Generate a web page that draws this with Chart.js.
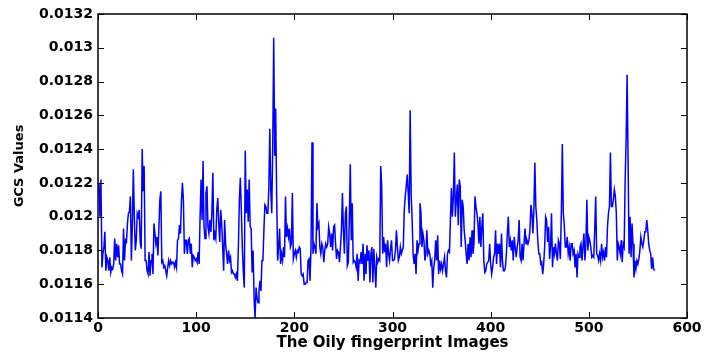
<!DOCTYPE html>
<html><head><meta charset="utf-8">
<script src="https://cdn.jsdelivr.net/npm/chart.js@4/dist/chart.umd.min.js"></script>
<style>html,body{margin:0;padding:0;background:#fff}canvas{display:block}</style>
</head><body>
<canvas id="c" width="704" height="356"></canvas>
<script>
// GCS value for each oily fingerprint image (1..567)
const gcsValues = [
0.0122,0.0120,0.01222,0.0117,0.01178,0.01182,0.01191,0.01168,0.01176,0.01174,
0.01168,0.01176,0.01167,0.0117,0.01169,0.01172,0.01187,0.01174,0.01184,0.01176,
0.01183,0.01172,0.01172,0.01168,0.01166,0.01193,0.01174,0.01186,0.01185,0.01196,
0.01202,0.01203,0.01212,0.01174,0.01195,0.01228,0.012,0.0118,0.01186,0.01202,
0.012,0.01204,0.01185,0.01181,0.0124,0.01215,0.0123,0.01174,0.01174,0.01168,
0.01166,0.01179,0.01165,0.01174,0.01178,0.01166,0.01196,0.0119,0.01184,0.01188,
0.01177,0.01193,0.0121,0.01215,0.01173,0.01174,0.0117,0.01171,0.01168,0.01165,
0.0117,0.01174,0.01171,0.01174,0.01172,0.01173,0.01173,0.0117,0.01173,0.0117,
0.01186,0.01187,0.01195,0.0119,0.01209,0.0122,0.0121,0.01178,0.01186,0.01186,
0.01178,0.01186,0.01187,0.01178,0.01184,0.0117,0.01177,0.01176,0.01174,0.01175,
0.01173,0.01179,0.01172,0.012,0.01222,0.01198,0.01233,0.01194,0.01187,0.01214,
0.01218,0.01194,0.0119,0.01198,0.01191,0.01202,0.01226,0.01186,0.0119,0.01187,
0.01204,0.01211,0.01196,0.01185,0.01204,0.01196,0.01182,0.01168,0.01198,0.01184,
0.01178,0.01172,0.0118,0.01174,0.01176,0.01167,0.01168,0.01166,0.01166,0.01164,
0.01166,0.01162,0.01182,0.0121,0.01223,0.01204,0.01182,0.01168,0.01158,0.01239,
0.01202,0.01216,0.01197,0.01222,0.01194,0.01193,0.01167,0.0118,0.01152,0.0114,
0.01158,0.01152,0.01149,0.01156,0.01162,0.01156,0.01174,0.01174,0.01192,0.01207,
0.01206,0.01202,0.01202,0.01216,0.01252,0.01216,0.01202,0.01242,0.01306,0.01236,
0.01264,0.01212,0.01174,0.01182,0.01193,0.01172,0.01178,0.01174,0.01182,0.01176,
0.01212,0.01188,0.01193,0.01188,0.01193,0.01182,0.01184,0.01214,0.01175,0.01178,
0.0118,0.01176,0.0118,0.01179,0.01182,0.01181,0.01166,0.01165,0.01166,0.0116,
0.0116,0.01161,0.01161,0.01174,0.01175,0.01162,0.01182,0.01244,0.01178,0.01184,
0.01182,0.01178,0.01208,0.01194,0.01196,0.01182,0.01178,0.01184,0.01182,0.01173,
0.0118,0.01184,0.01182,0.01184,0.01194,0.0119,0.01182,0.0119,0.0118,0.01194,
0.01195,0.01184,0.01175,0.0118,0.01179,0.01173,0.01182,0.01192,0.01214,0.01192,
0.01178,0.01202,0.01206,0.01171,0.01173,0.01198,0.01231,0.01186,0.01208,0.01173,
0.01174,0.01173,0.0117,0.01178,0.01162,0.01174,0.01173,0.01179,0.01172,0.01184,
0.01162,0.01178,0.01166,0.01183,0.01174,0.0118,0.01161,0.01178,0.01182,0.01161,
0.01181,0.0117,0.01158,0.01176,0.01173,0.01175,0.01174,0.0123,0.01218,0.01178,
0.01188,0.01179,0.01184,0.0117,0.01186,0.01178,0.01174,0.01181,0.01186,0.01174,
0.01174,0.01175,0.0118,0.01192,0.01182,0.01174,0.01176,0.01182,0.01178,0.0118,
0.01182,0.01204,0.01212,0.01218,0.01225,0.01214,0.01202,0.01263,0.01214,0.01198,
0.01178,0.01172,0.01178,0.01166,0.01186,0.0118,0.01184,0.01208,0.01202,0.01182,
0.0119,0.01186,0.01174,0.01178,0.01192,0.01178,0.0118,0.01178,0.01172,0.01174,
0.01158,0.0117,0.01174,0.01186,0.01174,0.01189,0.01166,0.01174,0.01169,0.01172,
0.01168,0.01172,0.01176,0.01168,0.01164,0.01178,0.0118,0.01179,0.01198,0.01217,
0.012,0.01212,0.01238,0.012,0.0121,0.01219,0.01195,0.01222,0.01218,0.01182,
0.0121,0.01206,0.01192,0.01186,0.01178,0.01172,0.01184,0.01174,0.01188,0.01176,
0.01192,0.01178,0.01184,0.01212,0.01206,0.01202,0.01196,0.01184,0.012,0.01182,
0.01194,0.01202,0.01174,0.01167,0.01168,0.01172,0.01173,0.01174,0.01184,0.01172,
0.01166,0.0117,0.01176,0.01178,0.01192,0.01172,0.01184,0.01178,0.01184,0.0117,
0.0119,0.01174,0.01168,0.01168,0.0117,0.01178,0.0119,0.012,0.01182,0.01186,
0.0118,0.01186,0.01174,0.01188,0.01182,0.01176,0.01182,0.01186,0.01198,0.01176,
0.01174,0.01184,0.01174,0.01184,0.01193,0.01184,0.01186,0.01184,0.01186,0.01192,
0.01207,0.01202,0.0119,0.01204,0.01232,0.01206,0.01198,0.01186,0.01178,0.01178,
0.01172,0.01173,0.01166,0.01172,0.01182,0.012,0.01198,0.01185,0.01194,0.01175,
0.01182,0.01202,0.0117,0.01182,0.01178,0.01184,0.01178,0.01174,0.01186,0.01184,
0.01175,0.01202,0.01243,0.01202,0.01195,0.01182,0.01182,0.01188,0.01178,0.01182,
0.01174,0.01184,0.01184,0.01178,0.0118,0.0117,0.01178,0.01164,0.01178,0.01176,
0.01182,0.01184,0.01174,0.01182,0.0119,0.01174,0.01184,0.0121,0.0118,0.01188,
0.01186,0.01182,0.01176,0.01177,0.01176,0.01192,0.01212,0.01178,0.01177,0.01174,
0.01178,0.01174,0.01184,0.01176,0.01179,0.01174,0.01182,0.01176,0.01194,0.01202,
0.01206,0.01238,0.01206,0.01206,0.0121,0.01216,0.01212,0.01202,0.01174,0.01184,
0.01182,0.01178,0.01186,0.01173,0.01184,0.01182,0.01222,0.01246,0.01284,0.01232,
0.01178,0.012,0.01176,0.01196,0.01184,0.01164,0.01174,0.01169,0.01174,0.01172,
0.01175,0.0118,0.01188,0.01184,0.01182,0.01186,0.01191,0.01191,0.01198,0.01192,
0.01184,0.0118,0.01178,0.01169,0.01176,0.01169,0.01168
];
// image index (1-based) for each value
const imageIndex = gcsValues.map((_, i) => i + 1);

const xTickValues = [0, 100, 200, 300, 400, 500, 600];
const xTickLabels = ['0', '100', '200', '300', '400', '500', '600'];
const yTickValues = [0.0114, 0.0116, 0.0118, 0.0120, 0.0122, 0.0124, 0.0126, 0.0128, 0.0130, 0.0132];
const yTickLabels = ['0.0114', '0.0116', '0.0118', '0.012', '0.0122', '0.0124', '0.0126', '0.0128', '0.013', '0.0132'];
const xTitle = 'The Oily fingerprint Images';
const yTitle = 'GCS Values';

const TICK_FONT = { family: "'DejaVu Sans', sans-serif", size: 14, weight: 'bold' };
const XTITLE_FONT = { family: "'DejaVu Sans', sans-serif", size: 15, weight: 'bold' };
const YTITLE_FONT = { family: "'DejaVu Sans', sans-serif", size: 13, weight: 'bold' };

const framePlugin = {
  id: 'frame',
  afterDraw(chart) {
    const { ctx, chartArea: a, scales: { x, y } } = chart;
    const L = 6;
    ctx.save();
    ctx.strokeStyle = '#000';
    ctx.lineWidth = 1;
    ctx.beginPath();
    x.ticks.forEach(t => {
      const px = Math.round(x.getPixelForValue(t.value)) + 0.5;
      ctx.moveTo(px, a.bottom); ctx.lineTo(px, a.bottom - L);
      ctx.moveTo(px, a.top); ctx.lineTo(px, a.top + L);
    });
    y.ticks.forEach(t => {
      const py = Math.round(y.getPixelForValue(t.value)) + 0.5;
      ctx.moveTo(a.left, py); ctx.lineTo(a.left + L, py);
      ctx.moveTo(a.right, py); ctx.lineTo(a.right - L, py);
    });
    ctx.stroke();
    ctx.lineWidth = 1.5;
    ctx.strokeRect(a.left, a.top, a.right - a.left, a.bottom - a.top);
    ctx.restore();
  }
};

new Chart(document.getElementById('c'), {
  type: 'line',
  data: {
    labels: imageIndex,
    datasets: [{
      data: gcsValues,
      borderColor: '#0000ff',
      borderWidth: 1.5,
      pointRadius: 0,
      tension: 0,
      fill: false
    }]
  },
  options: {
    responsive: false,
    animation: false,
    devicePixelRatio: 1,
    layout: { padding: { left: 0, right: 17, top: 14, bottom: 0 } },
    plugins: { legend: { display: false }, tooltip: { enabled: false } },
    scales: {
      x: {
        type: 'linear',
        min: 0, max: 600,
        afterFit(s) { s.height = 38; },
        afterBuildTicks(s) { s.ticks = xTickValues.map(v => ({ value: v })); },
        grid: { display: false, drawTicks: false },
        border: { display: false },
        ticks: {
          color: '#000', font: TICK_FONT, padding: 2, maxRotation: 0,
          callback: (v, i) => xTickLabels[i]
        },
        title: { display: true, text: xTitle, color: '#000', font: XTITLE_FONT, padding: { top: 0, bottom: 4 } }
      },
      y: {
        type: 'linear',
        min: 0.0114, max: 0.0132,
        afterFit(s) { s.width = 98; },
        afterBuildTicks(s) { s.ticks = yTickValues.map(v => ({ value: v })); },
        grid: { display: false, drawTicks: false },
        border: { display: false },
        ticks: {
          color: '#000', font: TICK_FONT, padding: 5,
          callback: (v, i) => yTickLabels[i]
        },
        title: { display: true, text: yTitle, color: '#000', font: YTITLE_FONT, padding: { top: 12, bottom: 0 } }
      }
    }
  },
  plugins: [framePlugin]
});
</script>
</body></html>
